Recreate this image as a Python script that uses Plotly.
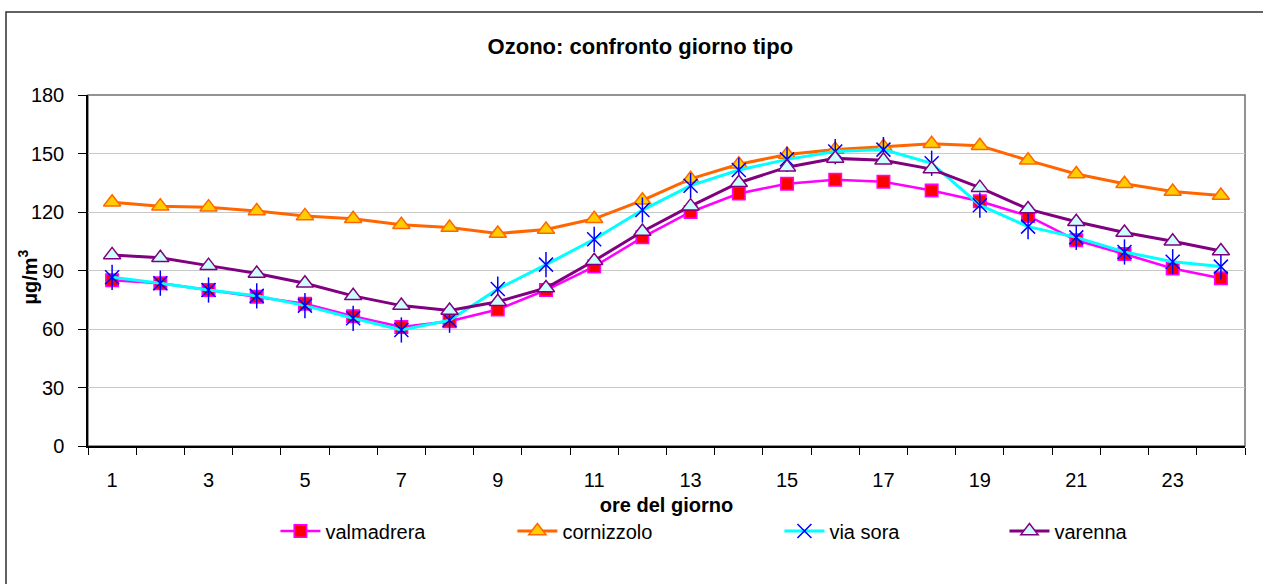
import plotly.graph_objects as go

hours = list(range(1, 25))

valmadrera = [85, 83.5, 80, 76.5, 73, 66.5, 61, 64, 70, 80, 92, 107,
              120, 129.5, 134.5, 136.5, 135.5, 131, 125.5, 118, 105.5, 98.5, 91, 86]
cornizzolo = [125, 123, 122.5, 120.5, 118, 116.5, 113.5, 112, 109, 111, 116.5, 126,
              137, 144.5, 149.5, 152, 153.5, 155, 154, 146.5, 139.5, 134.5, 130.5, 128.5]
via_sora = [86.5, 83.5, 80, 77, 72, 65.5, 59.5, 64.5, 80.5, 93, 106, 121,
            133.5, 141.5, 147, 151, 152, 145, 123.5, 112.5, 107, 99.5, 94.5, 92]
varenna = [98, 96.5, 92.5, 88.5, 83.5, 77, 72, 69.5, 74, 81, 95, 110,
           123, 135, 143, 147.5, 146.5, 142, 132.5, 121.5, 115, 109.5, 105, 100]

x_ticks = list(range(1, 25, 2))
y_ticks = list(range(0, 181, 30))

FONT = "Liberation Sans, Arial, sans-serif"
TXT = 20

fig = go.Figure()

fig.add_trace(go.Scatter(
    x=hours, y=valmadrera, name="valmadrera", mode="lines+markers",
    legend="legend",
    line=dict(color="#FF00FF", width=2.5),
    marker=dict(symbol="square", size=12.5, color="#FF0000",
                line=dict(color="#FF00FF", width=1.5)),
))
fig.add_trace(go.Scatter(
    x=hours, y=cornizzolo, name="cornizzolo", mode="lines+markers",
    legend="legend2",
    line=dict(color="#FF6600", width=3),
    marker=dict(symbol="triangle-up", size=15, color="#FFCC00",
                line=dict(color="#FF6600", width=1.5)),
))
# asterisk marker: a diagonal cross plus a vertical stroke
fig.add_trace(go.Scatter(
    x=hours, y=via_sora, name="via sora", mode="lines+markers",
    legend="legend3", legendgroup="via sora",
    line=dict(color="#00FFFF", width=3),
    marker=dict(symbol="x-thin-open", size=14, color="#0000FF",
                line=dict(color="#0000FF", width=1.5)),
))
fig.add_trace(go.Scatter(
    x=hours, y=via_sora, name="via sora", mode="markers",
    legend="legend3", legendgroup="via sora", showlegend=False,
    marker=dict(symbol="line-ns-open", size=18, color="#0000FF",
                line=dict(color="#0000FF", width=1.5)),
))
fig.add_trace(go.Scatter(
    x=hours, y=varenna, name="varenna", mode="lines+markers",
    legend="legend4",
    line=dict(color="#800080", width=3),
    marker=dict(symbol="triangle-up", size=15, color="#CCFFFF",
                line=dict(color="#800080", width=1.5)),
))

LEG_Y = -0.242


def legend_at(x):
    return dict(orientation="h", x=x, xanchor="left", y=LEG_Y, yanchor="middle",
                font=dict(size=TXT), itemwidth=40, bgcolor="rgba(0,0,0,0)")


fig.update_layout(
    width=1263, height=584,
    margin=dict(l=88, r=18, t=95, b=138),
    paper_bgcolor="white", plot_bgcolor="white",
    font=dict(family=FONT, size=TXT, color="black"),
    title=dict(text="<b>Ozono: confronto giorno tipo</b>",
               font=dict(size=22, family=FONT),
               x=0.507, xref="container", xanchor="center",
               y=1 - 46 / 584, yref="container", yanchor="middle"),
    showlegend=True,
    legend=legend_at(0.162),
    legend2=legend_at(0.3668),
    legend3=legend_at(0.5976),
    legend4=legend_at(0.7921),
    xaxis=dict(range=[0.5, 24.5], tickmode="array", tickvals=x_ticks,
               ticks="", ticklabelstandoff=15,
               showgrid=False, zeroline=False,
               showline=True, linecolor="black", linewidth=1.5,
               minor=dict(tickmode="linear", tick0=0.5, dtick=1,
                          ticks="outside", ticklen=7, tickcolor="black",
                          tickwidth=1, showgrid=False),
               title=dict(text="<b>ore del giorno</b>", font=dict(size=TXT),
                          standoff=8)),
    yaxis=dict(range=[0, 180], tickmode="array", tickvals=y_ticks,
               ticks="outside", ticklen=8, tickcolor="black",
               ticklabelstandoff=10,
               showgrid=True, gridcolor="#C8C8C8", gridwidth=1,
               zeroline=False, showline=True, linecolor="black", linewidth=1.5),
    annotations=[
        dict(text="<b>µg/m<sup>3</sup></b>", textangle=-90,
             xref="paper", yref="paper", x=(28 - 88) / 1157, y=0.48,
             xanchor="center", yanchor="middle", showarrow=False,
             font=dict(size=TXT)),
    ],
    shapes=[
        # plot area frame (top and right edges in gray)
        dict(type="rect", xref="paper", yref="paper", x0=0, y0=0, x1=1, y1=1,
             line=dict(color="#707070", width=1.5), layer="below"),
        # chart outer frame
        dict(type="rect", xref="paper", yref="paper",
             x0=(6 - 88) / 1157, x1=(1275 - 88) / 1157,
             y0=(446 - 600) / 351, y1=(446 - 12) / 351,
             line=dict(color="#303030", width=1.5), layer="below"),
    ],
)

fig.write_html("out.html")
